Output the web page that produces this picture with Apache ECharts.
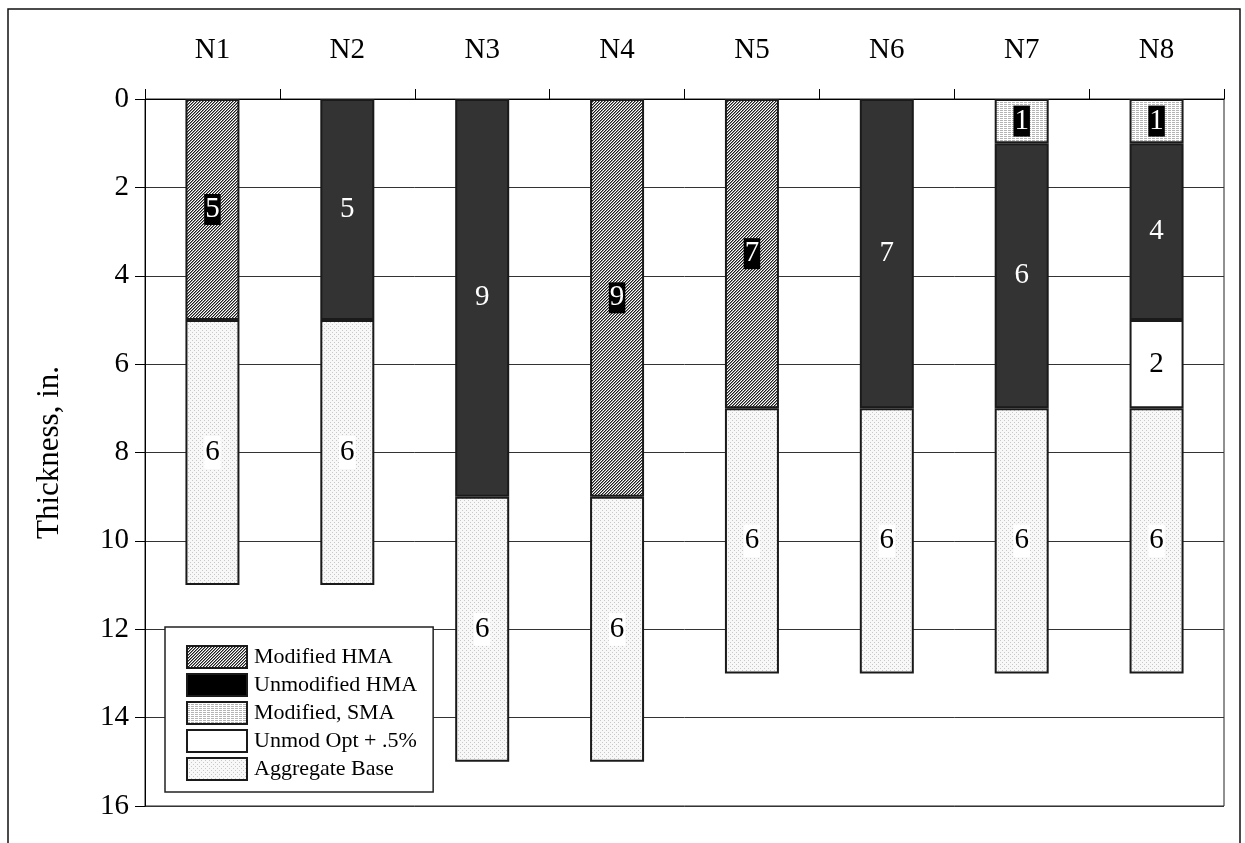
<!DOCTYPE html>
<html>
<head>
<meta charset="utf-8">
<script src="https://cdn.jsdelivr.net/npm/echarts@6/dist/echarts.min.js"></script>
<style>
  html, body { margin: 0; padding: 0; background: #fff; }
  #chart { width: 1245px; height: 843px; }
</style>
</head>
<body>
<div id="chart"></div>
<script>
var sections = ['N1', 'N2', 'N3', 'N4', 'N5', 'N6', 'N7', 'N8'];
var yTicks = [0, 16, 2];   // min, max, step
// layer thicknesses, top to bottom of the stack
var modSMA    = ['-', '-', '-', '-', '-', '-', 1, 1];
var modHMA    = [5, '-', '-', 9, 7, '-', '-', '-'];
var unmodHMA  = ['-', 5, 9, '-', '-', 7, 6, 4];
var unmodOpt  = ['-', '-', '-', '-', '-', '-', '-', 2];
var aggBase   = [6, 6, 6, 6, 6, 6, 6, 6];

var FONT = '"Liberation Serif", "Times New Roman", serif';

// little canvas tiles for the hatch fills
function makeTile(size, bg, paint) {
    var c = document.createElement('canvas');
    c.width = size; c.height = size;
    var ctx = c.getContext('2d');
    ctx.fillStyle = bg;
    ctx.fillRect(0, 0, size, size);
    for (var x = 0; x < size; x++) {
        for (var y = 0; y < size; y++) {
            var col = paint(x, y);
            if (col) {
                ctx.fillStyle = col;
                ctx.fillRect(x, y, 1, 1);
            }
        }
    }
    return { image: c, repeat: 'repeat' };
}
var diagFill = makeTile(3, '#ffffff', function (x, y) {
    var k = (x + y) % 3;
    return k === 0 ? '#1e1e1e' : (k === 1 ? '#8a8a8a' : null);
});
var smaFill = makeTile(4, '#ffffff', function (x, y) {
    return (y % 2 === 0 && x % 4 !== 3) ? '#b4b4b4' : null;
});
var aggFill = makeTile(4, '#f8f8f8', function (x, y) {
    return ((x === 0 && y === 0) || (x === 2 && y === 2)) ? '#c8c8c8' : null;
});

function barSeries(name, data, fill, label) {
    return {
        name: name,
        type: 'bar',
        stack: 'depth',
        barWidth: 54,
        data: data,
        itemStyle: { color: fill, borderColor: '#1a1a1a', borderWidth: 2 },
        label: Object.assign({
            show: true,
            position: 'inside',
            fontFamily: FONT,
            fontSize: 29
        }, label)
    };
}

var myChart = echarts.init(document.getElementById('chart'));

var option = {
    backgroundColor: '#fff',
    animation: false,
    graphic: [{
        type: 'rect',
        shape: { x: 8, y: 9, width: 1232, height: 850 },
        style: { fill: 'none', stroke: '#111', lineWidth: 1.5 },
        silent: true
    }],
    grid: {
        left: 145, right: 21, top: 99, bottom: 37,
        show: true,
        borderColor: '#222',
        borderWidth: 1
    },
    legend: {
        orient: 'vertical',
        left: 165,
        top: 627,
        data: [
            'Modified HMA',
            { name: 'Unmodified HMA', itemStyle: { color: '#000' } },
            'Modified, SMA',
            'Unmod Opt + .5%',
            'Aggregate Base'
        ],
        itemWidth: 60,
        itemHeight: 22,
        itemGap: 4,
        padding: [18, 16, 11, 21],
        borderColor: '#222',
        borderWidth: 1.5,
        backgroundColor: '#fff',
        textStyle: { fontFamily: FONT, fontSize: 22, lineHeight: 23, color: '#000', padding: [0, 0, 0, 2] },
        icon: 'rect'
    },
    xAxis: {
        type: 'category',
        position: 'top',
        data: sections,
        axisLine: { lineStyle: { color: '#000', width: 1 } },
        axisTick: { show: true, length: 10, lineStyle: { color: '#000' } },
        axisLabel: { margin: 34, fontFamily: FONT, fontSize: 29, color: '#000' },
        splitLine: { show: false }
    },
    yAxis: {
        type: 'value',
        inverse: true,
        min: yTicks[0],
        max: yTicks[1],
        interval: yTicks[2],
        name: 'Thickness, in.',
        nameLocation: 'middle',
        nameGap: 80,
        nameTextStyle: { fontFamily: FONT, fontSize: 31, color: '#000' },
        axisLine: { show: true, lineStyle: { color: '#000', width: 1 } },
        axisTick: { show: true, length: 10, lineStyle: { color: '#000' } },
        axisLabel: { margin: 16, fontFamily: FONT, fontSize: 29, color: '#000' },
        splitLine: { show: true, lineStyle: { color: '#333', width: 1 } }
    },
    series: [
        barSeries('Modified, SMA', modSMA, smaFill,
            { color: '#fff', backgroundColor: '#000', padding: [2, 1, 0, 1] }),
        barSeries('Modified HMA', modHMA, diagFill,
            { color: '#fff', backgroundColor: '#000', padding: [2, 1, 0, 1] }),
        barSeries('Unmodified HMA', unmodHMA, '#333333',
            { color: '#fff' }),
        barSeries('Unmod Opt + .5%', unmodOpt, '#ffffff',
            { color: '#000' }),
        barSeries('Aggregate Base', aggBase, aggFill,
            { color: '#000', backgroundColor: '#fff', padding: [3, 1, 1, 1] })
    ]
};

myChart.setOption(option);
</script>
</body>
</html>
